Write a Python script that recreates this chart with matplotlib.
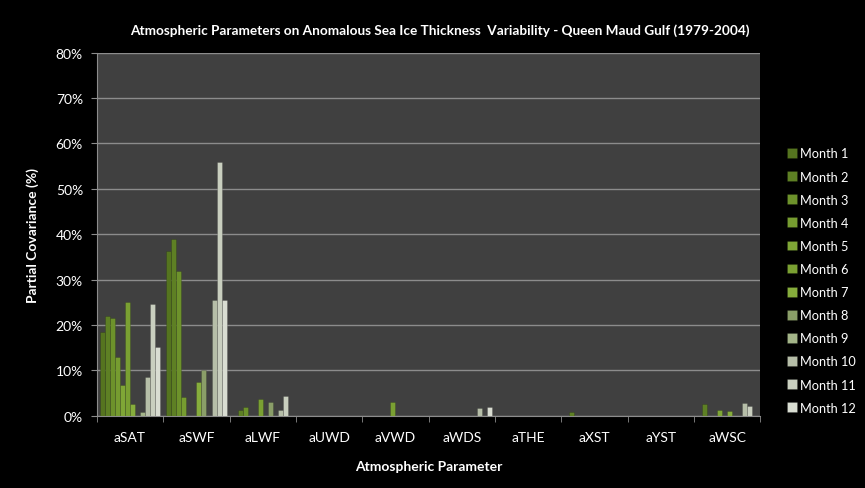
import numpy as np
import matplotlib; matplotlib.use("Agg")
import matplotlib.pyplot as plt
from matplotlib.ticker import FixedLocator, PercentFormatter

plt.rcParams["font.family"] = ["Lato", "DejaVu Sans"]

params = ["aSAT", "aSWF", "aLWF", "aUWD", "aVWD", "aWDS", "aTHE", "aXST", "aYST", "aWSC"]
months = [f"Month {m}" for m in range(1, 13)]

# partial covariance (%) per parameter, months 1..12
aSAT = [18.4, 21.9, 21.6, 13.0, 6.8, 25.1, 2.6, 0, 0.9, 8.5, 24.6, 15.2]
aSWF = [36.2, 38.9, 31.8, 4.0, 0, 0, 7.5, 10.0, 0, 25.6, 55.9, 25.6]
aLWF = [0, 1.2, 1.8, 0, 0, 3.7, 0, 2.9, 0, 1.25, 4.4, 0]
aUWD = [0] * 12
aVWD = [0, 0, 0, 0, 0, 2.9, 0, 0, 0, 0, 0, 0]
aWDS = [0, 0, 0, 0, 0, 0, 0, 0, 0, 1.7, 0, 1.8]
aTHE = [0] * 12
aXST = [0, 0.9, 0, 0, 0, 0, 0, 0, 0, 0, 0, 0]
aYST = [0] * 12
aWSC = [0, 2.5, 0, 0, 1.2, 0, 1.0, 0, 0, 2.7, 2.1, 0]

vals = np.array([aSAT, aSWF, aLWF, aUWD, aVWD, aWDS, aTHE, aXST, aYST, aWSC])
colors = ["#55741f", "#5e8024", "#6d922b", "#769c30", "#7fa636", "#7aa032",
          "#86ad3c", "#8a9e68", "#a3b488", "#b6bea8", "#c9cfbf", "#d9ddd2"]

fig = plt.figure(figsize=(8.65, 4.89), dpi=100, facecolor="black")
ax = fig.add_axes([0.112, 0.148, 0.767, 0.742], facecolor="#404040")

x = np.arange(len(params))
w = 0.076
for i in range(12):
    ax.bar(x + (i - 5.5) * w, vals[:, i], width=w, color=colors[i],
           edgecolor="#00000033", linewidth=0.5, label=months[i], zorder=3)

ax.set_xlim(-0.5, len(params) - 0.5)
ax.set_ylim(0, 80)
ax.yaxis.set_major_locator(FixedLocator(np.arange(0, 81, 10)))
ax.yaxis.set_major_formatter(PercentFormatter(decimals=0))
ax.grid(axis="y", color="#8c8c8c", lw=1, zorder=1)
ax.set_xticks(x)
ax.set_xticklabels(params)
ax.xaxis.set_minor_locator(FixedLocator(np.arange(-0.5, len(params), 1)))
ax.tick_params(axis="x", which="major", length=0, colors="white", labelsize=10, pad=11)
ax.tick_params(axis="x", which="minor", length=4, color="#8c8c8c")
ax.tick_params(axis="y", length=4, color="#8c8c8c", labelcolor="white", labelsize=10, pad=6)
for s in ["top", "right"]:
    ax.spines[s].set_visible(False)
for s in ["left", "bottom"]:
    ax.spines[s].set_color("#8c8c8c")

ax.set_ylabel("Partial Covariance (%)", color="white", fontsize=10, fontweight="bold", labelpad=12)
ax.set_xlabel("Atmospheric Parameter", color="white", fontsize=10, fontweight="bold", labelpad=12)
fig.text(0.508, 0.938, "Atmospheric Parameters on Anomalous Sea Ice Thickness  Variability - Queen Maud Gulf (1979-2004)",
         color="white", fontsize=9.8, fontweight="bold", ha="center", va="center")

fig.legend(loc="upper left", bbox_to_anchor=(0.896, 0.72), frameon=False, labelcolor="white",
           fontsize=9.2, handlelength=0.8, handleheight=0.8, handletextpad=0.25, labelspacing=0.87)

fig.savefig("out.png", dpi=100, facecolor="black")
